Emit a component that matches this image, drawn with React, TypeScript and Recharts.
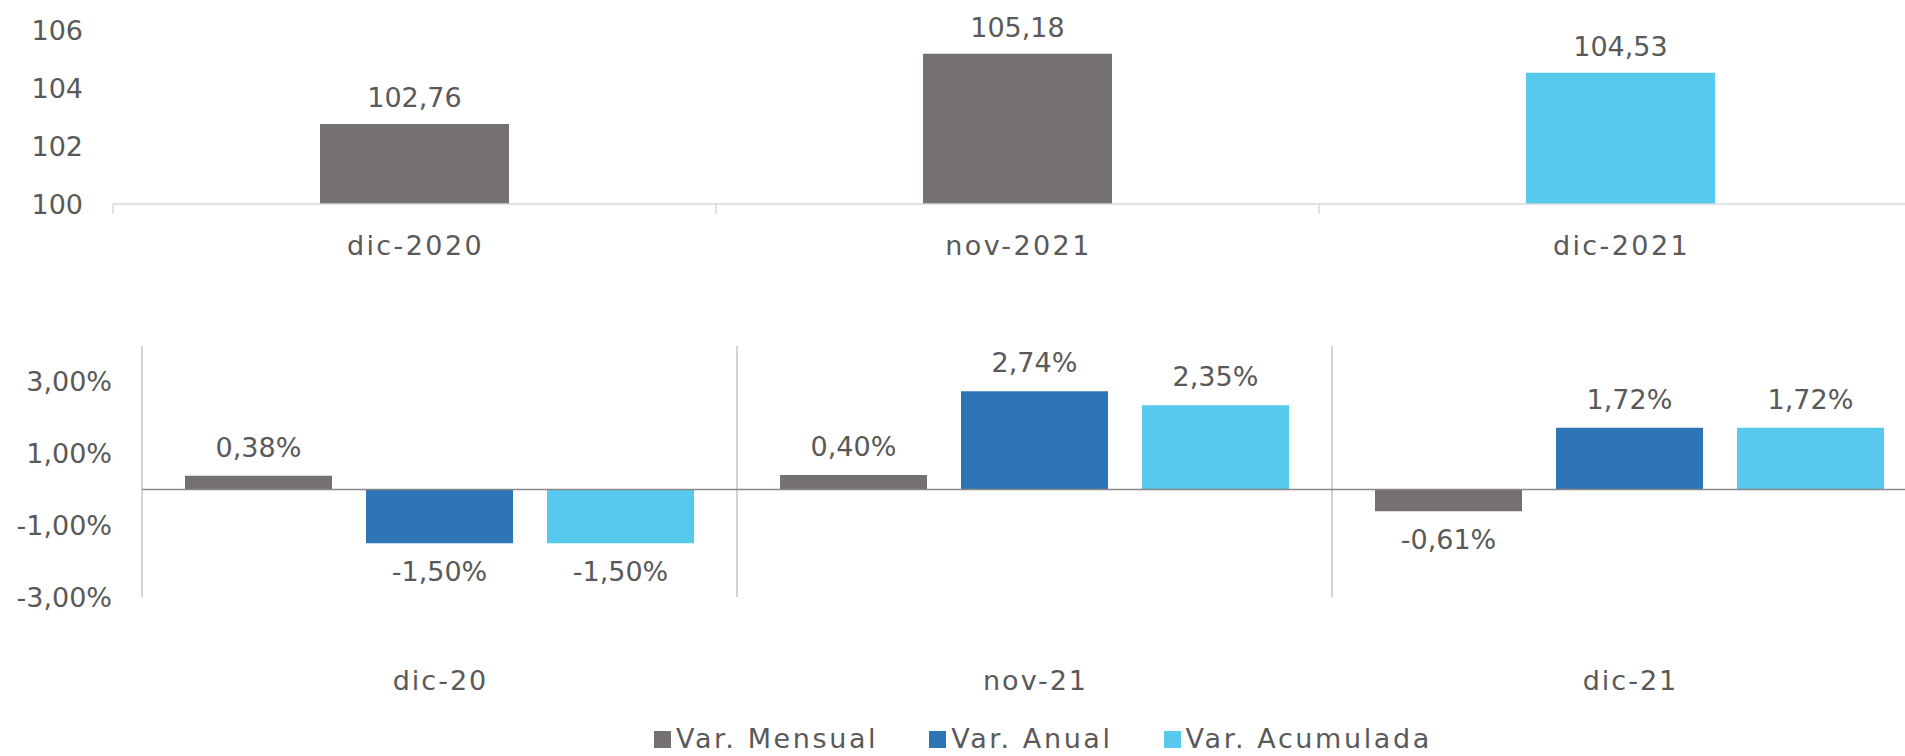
import React from "react";
import { BarChart, Bar, XAxis, YAxis, Cell, LabelList, ReferenceLine } from "recharts";

// Top chart: index values
const indexCategories = ["dic-2020", "nov-2021", "dic-2021"];
const indexValues = [102.76, 105.18, 104.53];
const indexColors = ["#757171", "#757171", "#56C9ED"];
const indexTicks = [100, 102, 104, 106];

// Bottom chart: variations (%)
const varCategories = ["dic-20", "nov-21", "dic-21"];
const varMensual = [0.38, 0.4, -0.61];
const varAnual = [-1.5, 2.74, 1.72];
const varAcumulada = [-1.5, 2.35, 1.72];
const varTicks = [-3, -1, 1, 3];

const SERIES = [
  { key: "mensual", name: "Var. Mensual", color: "#757171" },
  { key: "anual", name: "Var. Anual", color: "#2E75B6" },
  { key: "acumulada", name: "Var. Acumulada", color: "#56C9ED" },
];

const FONT = "'DejaVu Sans', sans-serif";
const TEXT = "#595959";
const FS = 27;

const indexData = indexCategories.map((name, i) => ({ name, value: indexValues[i] }));
const varData = varCategories.map((name, i) => ({
  name,
  mensual: varMensual[i],
  anual: varAnual[i],
  acumulada: varAcumulada[i],
}));

const fmtIndex = (v: number) => v.toFixed(2).replace(".", ",");
const fmtPct = (v: number) => v.toFixed(2).replace(".", ",") + "%";

const tickStyle = { fill: TEXT, fontSize: FS, fontFamily: FONT };

function TopTick(props: any) {
  const { x, y, payload } = props;
  const off = payload.offset ?? 0;
  return (
    <g>
      <line x1={x - off} x2={x - off} y1={y} y2={y + 10} stroke="#d9d9d9" strokeWidth={1.5} />
      <text x={x + 1} y={y + 41} textAnchor="middle" dominantBaseline="central" letterSpacing={2.4} {...tickStyle}>
        {payload.value}
      </text>
    </g>
  );
}

function BottomTick(props: any) {
  const { x, y, payload } = props;
  return (
    <text x={x + 1} y={y + 83} textAnchor="middle" dominantBaseline="central" letterSpacing={2} {...tickStyle}>
      {payload.value}
    </text>
  );
}

export default function App() {
  return (
    <div
      style={{
        position: "absolute",
        left: 0,
        top: 0,
        width: 1905,
        height: 756,
        overflow: "hidden",
        background: "#fff",
        fontFamily: FONT,
      }}
    >
      <div style={{ position: "absolute", left: 0, top: 0 }}>
        <BarChart width={1922} height={260} data={indexData} margin={{ top: 30, right: 0, left: 0, bottom: 0 }}>
          <XAxis
            dataKey="name"
            height={56}
            stroke="#d9d9d9"
            strokeWidth={1.5}
            tickLine={false}
            tickSize={0}
            tickMargin={0}
            tick={<TopTick />}
            interval={0}
          />
          <YAxis
            domain={[100, 106]}
            ticks={indexTicks}
            width={113}
            axisLine={false}
            tickLine={false}
            tickSize={0}
            tickMargin={30}
            tick={tickStyle}
          />
          <Bar dataKey="value" barSize={189} isAnimationActive={false}>
            {indexData.map((d, i) => (
              <Cell key={d.name} fill={indexColors[i]} />
            ))}
            <LabelList dataKey="value" position="top" offset={17} formatter={fmtIndex} style={tickStyle} />
          </Bar>
        </BarChart>
      </div>

      <div style={{ position: "absolute", left: 0, top: 300 }}>
        <BarChart
          width={1927}
          height={397}
          data={varData}
          margin={{ top: 46, right: 0, left: 0, bottom: 0 }}
          barGap={34}
        >
          <XAxis
            dataKey="name"
            height={100}
            axisLine={false}
            tickLine={false}
            tickSize={0}
            tickMargin={0}
            tick={<BottomTick />}
            interval={0}
          />
          <YAxis
            domain={[-3, 4]}
            ticks={varTicks}
            width={142}
            stroke="#a6a6a6"
            tickLine={false}
            tickSize={0}
            tickMargin={30}
            tick={tickStyle}
            tickFormatter={fmtPct}
          />
          <ReferenceLine x="nov-21" position="start" stroke="#a6a6a6" />
          <ReferenceLine x="dic-21" position="start" stroke="#a6a6a6" />
          {SERIES.map((s) => (
            <Bar key={s.key} dataKey={s.key} name={s.name} fill={s.color} barSize={147} isAnimationActive={false}>
              <LabelList dataKey={s.key} position="top" offset={19} formatter={fmtPct} style={tickStyle} />
            </Bar>
          ))}
          <ReferenceLine y={0} stroke="#898989" strokeWidth={1.5} />
        </BarChart>
      </div>

      <div
        style={{
          position: "absolute",
          left: 654,
          top: 722,
          display: "flex",
          alignItems: "center",
          gap: 51,
          color: TEXT,
          fontSize: FS,
          letterSpacing: 2.6,
          lineHeight: "34px",
        }}
      >
        {SERIES.map((s) => (
          <div key={s.key} style={{ display: "flex", alignItems: "center", gap: 5 }}>
            <span style={{ width: 17, height: 17, background: s.color, display: "inline-block" }} />
            <span>{s.name}</span>
          </div>
        ))}
      </div>
    </div>
  );
}
